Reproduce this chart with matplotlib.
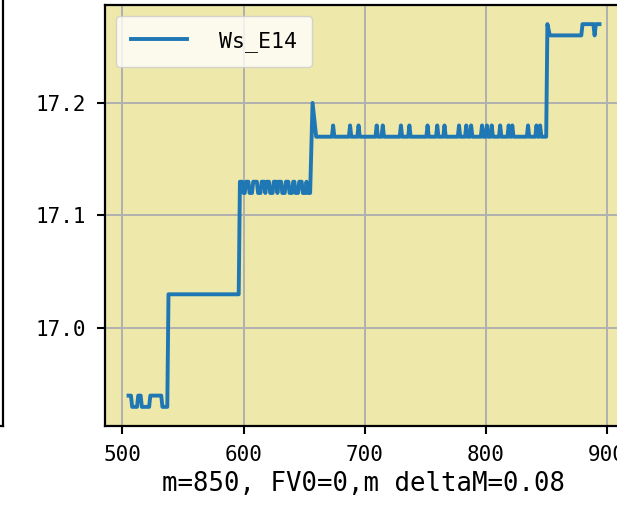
import matplotlib
matplotlib.use("Agg")
import matplotlib.pyplot as plt

plt.rcParams["font.family"] = ["DejaVu Sans Mono"]

# Ws_E14 trace, vertices
mass = [505, 507, 508, 512, 513, 515, 516, 522, 523, 532, 533, 537,
        538, 596,
        597, 599, 600, 601, 602, 604, 605, 607, 608, 611, 612, 614, 615,
        617, 618, 619, 621, 622, 624, 625, 627, 628, 629, 631, 632, 634,
        635, 637, 638, 640, 641, 642, 643, 645, 646, 648, 649, 651, 652,
        653, 655,
        657, 660,
        673, 674, 675, 687, 688, 689, 694, 695, 696, 709, 710, 711, 714,
        715, 716, 729, 730, 731, 736, 737, 738, 751, 752, 753, 759, 760,
        761, 765, 766, 767, 777, 778, 779, 783, 784, 785, 787, 788, 789,
        796, 797, 798, 800, 801, 802, 804, 805, 806, 811, 812, 813, 818,
        819, 820, 821, 822, 823, 834, 835, 836, 841, 842, 843, 844, 845,
        846, 850,
        851, 853, 879, 880, 889, 890, 891, 894]
ws_e14 = [16.94, 16.94, 16.93, 16.93, 16.94, 16.94, 16.93, 16.93, 16.94, 16.94, 16.93, 16.93,
          17.03, 17.03,
          17.13, 17.13, 17.12, 17.12, 17.13, 17.13, 17.12, 17.12, 17.13, 17.13, 17.12, 17.12, 17.13,
          17.13, 17.12, 17.13, 17.13, 17.12, 17.12, 17.13, 17.13, 17.12, 17.13, 17.13, 17.12, 17.12,
          17.13, 17.13, 17.12, 17.12, 17.13, 17.13, 17.12, 17.12, 17.13, 17.13, 17.12, 17.12, 17.13,
          17.12, 17.12,
          17.20, 17.17,
          17.17, 17.18, 17.17, 17.17, 17.18, 17.17, 17.17, 17.18, 17.17, 17.17, 17.18, 17.17, 17.17,
          17.18, 17.17, 17.17, 17.18, 17.17, 17.17, 17.18, 17.17, 17.17, 17.18, 17.17, 17.17, 17.18,
          17.17, 17.17, 17.18, 17.17, 17.17, 17.18, 17.17, 17.17, 17.18, 17.17, 17.17, 17.18, 17.17,
          17.17, 17.18, 17.17, 17.17, 17.18, 17.17, 17.17, 17.18, 17.17, 17.17, 17.18, 17.17, 17.17,
          17.18, 17.17, 17.17, 17.18, 17.17, 17.17, 17.18, 17.17, 17.17, 17.18, 17.17, 17.17, 17.18,
          17.17, 17.17,
          17.27, 17.26, 17.26, 17.27, 17.27, 17.26, 17.27, 17.27]

xticks = [500, 600, 700, 800, 900]
yticks = [17.0, 17.1, 17.2]

fig = plt.figure(figsize=(6.17, 5.08), dpi=100)

# neighbouring subplot: only its right edge falls inside the crop
side = fig.add_axes([-0.5, 0.1614, 0.5 + 2.5 / 617, 0.9])
side.set_xticks([])
side.set_yticks([])
for s in ("top", "left"):
    side.spines[s].set_visible(False)
for s in ("right", "bottom"):
    side.spines[s].set_linewidth(1.6)

ax = fig.add_axes([105 / 617, 82 / 508, 518 / 617, 421 / 508])
ax.set_facecolor("palegoldenrod")
ax.plot(mass, ws_e14, color="#1f77b4", lw=2.8, label="Ws_E14")
ax.set_xticks(xticks)
ax.set_yticks(yticks)
ax.grid(True, color="#b0b0b0", lw=1.4)
ax.set_axisbelow(True)
ax.tick_params(labelsize=15, length=6, width=1.5, pad=8)
for s in ax.spines.values():
    s.set_linewidth(1.6)
ax.set_xlabel("m=850, FV0=0,m deltaM=0.08", fontsize=18.5, labelpad=4)
ax.legend(loc="upper left", fontsize=15.5, handlelength=2.6,
          handletextpad=1.5, borderpad=0.7)

fig.savefig("out.png", dpi=100)
